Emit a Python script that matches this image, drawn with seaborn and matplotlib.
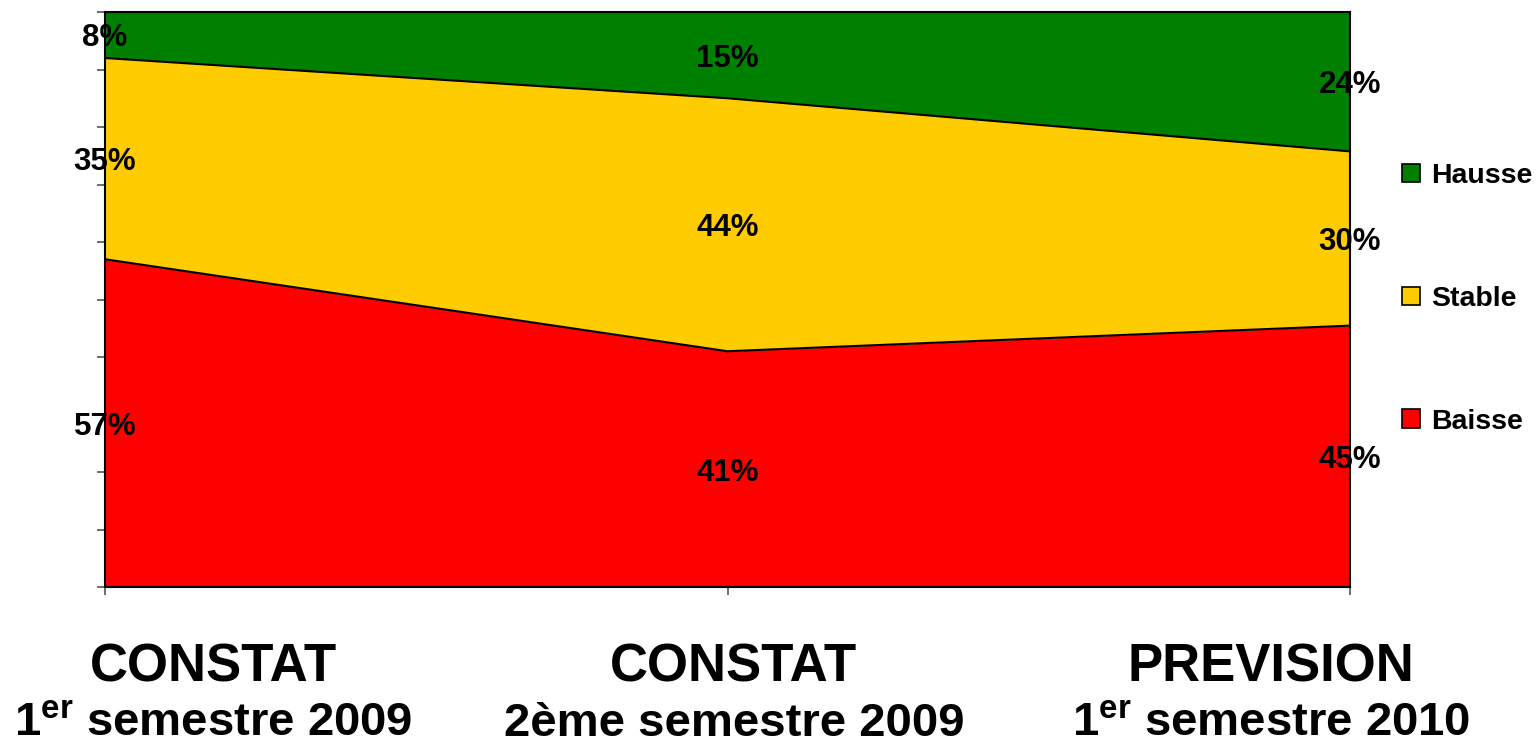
import matplotlib
matplotlib.use("Agg")
import numpy as np
import pandas as pd
import seaborn as sns
import matplotlib.pyplot as plt
from matplotlib.patches import Patch

sns.set_theme(style="white")
plt.rcParams['font.family'] = ['Liberation Sans', 'DejaVu Sans']
plt.rcParams['text.color'] = 'black'
plt.rcParams['mathtext.fontset'] = 'custom'
plt.rcParams['mathtext.rm'] = 'Liberation Sans:bold'
plt.rcParams['mathtext.bf'] = 'Liberation Sans:bold'
plt.rcParams['mathtext.it'] = 'Liberation Sans:bold'

# data
periods = ["CONSTAT", "CONSTAT", "PREVISION"]
semesters = [r"1$^{\mathrm{er}}$ semestre 2009", "2ème semestre 2009",
             r"1$^{\mathrm{er}}$ semestre 2010"]
series = ["Baisse", "Stable", "Hausse"]
baisse = [57, 41, 45]
stable = [35, 44, 30]
hausse = [8, 15, 24]
colors = {"Baisse": "#FF0000", "Stable": "#FFCC00", "Hausse": "#008000"}

df = pd.DataFrame({"pos": range(3), "Baisse": baisse, "Stable": stable, "Hausse": hausse})
# 100% stacked
total = df[series].sum(axis=1)
pct = df[series].div(total, axis=0) * 100
cum = pct.cumsum(axis=1)

fig = plt.figure(figsize=(15.37, 7.43), dpi=100)
ax = fig.add_axes([105 / 1537, 156 / 743, 1245 / 1537, 575 / 743])

lower = np.zeros(3)
for s in series:
    upper = cum[s].to_numpy()
    ax.fill_between(df['pos'], lower, upper, color=colors[s], linewidth=0)
    sns.lineplot(x=df['pos'], y=upper, color='black', lw=1.5, ax=ax)
    for x, lo, hi, v in zip(df['pos'], lower, upper, df[s]):
        ax.text(x, (lo + hi) / 2, f"{v}%", ha='center', va='center_baseline',
                fontsize=22.5, fontweight='bold', color='black', zorder=5)
    lower = upper

ax.set_xlim(0, 2)
ax.set_ylim(0, 100)
ax.set_yticks(np.arange(0, 101, 10))
ax.set_yticklabels([])
ax.set_xticks(df['pos'])
ax.set_xticklabels([])
ax.set_xlabel('')
ax.set_ylabel('')
ax.tick_params(axis='both', direction='inout', length=12, width=1.2,
               color='#555555', left=True, bottom=True)
for sp in ax.spines.values():
    sp.set_color('black')
    sp.set_linewidth(1.5)

# category labels under the chart
label_x = [213, 734, 1271]
for lx, p, s in zip(label_x, periods, semesters):
    fig.text(lx / 1537, 1 - 682 / 743, p, ha='center', va='baseline',
             fontsize=38, fontweight='bold', color='black')
    fig.text(lx / 1537, 1 - 736 / 743, s, ha='center', va='baseline',
             fontsize=34, fontweight='bold', color='black')

handles = [Patch(facecolor=colors[s], edgecolor='black', lw=1.2, label=s)
           for s in ["Hausse", "Stable", "Baisse"]]
fig.legend(handles=handles, loc='center left', bbox_to_anchor=(1402 / 1537, 1 - 299 / 743),
           frameon=False, prop={'weight': 'bold', 'size': 20.5},
           handlelength=0.63, handleheight=0.63, handletextpad=0.38,
           labelspacing=3.4, borderpad=0, borderaxespad=0, labelcolor='black')

fig.savefig('out.png', dpi=100)
